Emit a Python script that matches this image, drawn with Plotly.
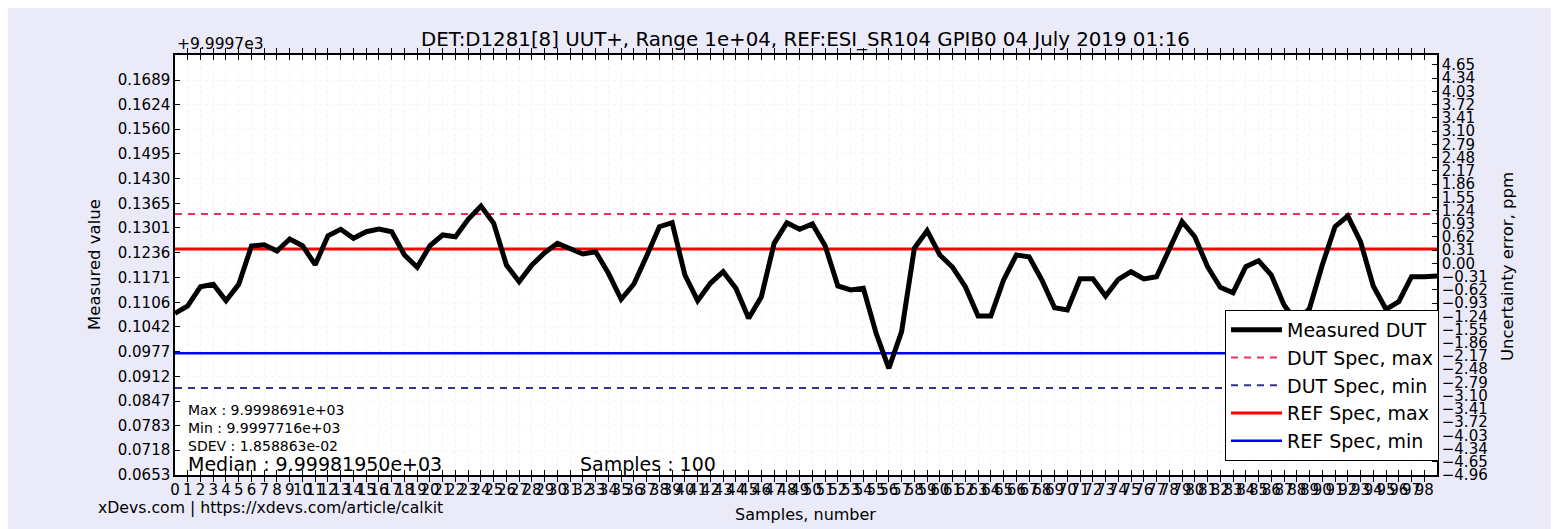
import plotly.graph_objects as go

# ---------------- data (offset values, +9.9997e3) ----------------
samples = list(range(100))
measured = [
    0.10771, 0.10963, 0.11469, 0.11532, 0.11102, 0.11532, 0.12536, 0.12570, 0.12405, 0.12720,
    0.12544, 0.12046, 0.12806, 0.12974, 0.12738, 0.12911, 0.12982, 0.12911, 0.12300, 0.11978,
    0.12544, 0.12825, 0.12780, 0.13236, 0.13585, 0.13132, 0.12038, 0.11600, 0.12038, 0.12361,
    0.12607, 0.12476, 0.12326, 0.12387, 0.11820, 0.11138, 0.11540, 0.12274, 0.13043, 0.13147,
    0.11776, 0.11102, 0.11558, 0.11862, 0.11427, 0.10640, 0.11207, 0.12607, 0.13147, 0.12974,
    0.13113, 0.12544, 0.11487, 0.11382, 0.11427, 0.10247, 0.09329, 0.10289, 0.12476, 0.12938,
    0.12300, 0.11978, 0.11469, 0.10700, 0.10700, 0.11645, 0.12300, 0.12256, 0.11645, 0.10918,
    0.10858, 0.11679, 0.11679, 0.11225, 0.11663, 0.11862, 0.11671, 0.11731, 0.12431, 0.13174,
    0.12780, 0.11993, 0.11453, 0.11311, 0.11993, 0.12151, 0.11776, 0.10989, 0.10543, 0.10900,
    0.12038, 0.13043, 0.13323, 0.12649, 0.11487, 0.10876, 0.11075, 0.11731, 0.11731, 0.11750,
]
dut_spec_max = 0.13376
dut_spec_min = 0.08812
ref_spec_max = 0.12458
ref_spec_min = 0.09722

left_tickvals = [0.0653, 0.0718, 0.0783, 0.0847, 0.0912, 0.0977, 0.1042, 0.1106, 0.1171,
                 0.1236, 0.1301, 0.1365, 0.1430, 0.1495, 0.1560, 0.1624, 0.1689]
left_ticktext = ["0.0653", "0.0718", "0.0783", "0.0847", "0.0912", "0.0977", "0.1042", "0.1106",
                 "0.1171", "0.1236", "0.1301", "0.1365", "0.1430", "0.1495", "0.1560", "0.1624", "0.1689"]
right_tickvals = [-4.96, -4.65, -4.34, -4.03, -3.72, -3.41, -3.10, -2.79, -2.48, -2.17, -1.86,
                  -1.55, -1.24, -0.93, -0.62, -0.31, 0.00, 0.31, 0.62, 0.93, 1.24, 1.55, 1.86,
                  2.17, 2.48, 2.79, 3.10, 3.41, 3.72, 4.03, 4.34, 4.65]
right_ticktext = ["−4.96", "−4.65", "−4.34", "−4.03", "−3.72", "−3.41", "−3.10", "−2.79", "−2.48",
                  "−2.17", "−1.86", "−1.55", "−1.24", "−0.93", "−0.62", "−0.31", "0.00", "0.31",
                  "0.62", "0.93", "1.24", "1.55", "1.86", "2.17", "2.48", "2.79", "3.10", "3.41",
                  "3.72", "4.03", "4.34", "4.65"]
x_tickvals = list(range(99))

title_text = "DET:D1281[8] UUT+, Range 1e+04, REF:ESI_SR104 GPIB0 04 July 2019 01:16"
stats_small = ["Max : 9.9998691e+03", "Min : 9.9997716e+03", "SDEV : 1.858863e-02"]
median_text = "Median : 9.99981950e+03"
samples_text = "Samples : 100"
footer_text = "xDevs.com | https://xdevs.com/article/calkit"

# ---------------- layout geometry (page pixels) ----------------
W, H = 1559, 529
OFF = 8  # default page body margin
L, R, T, B = 175, 1437, 55, 475
PW, PH = R - L, B - T
FONT = "DejaVu Sans"
BG = "#EAEAF9"


def px(xp):
    return (xp - L) / PW


def py(yp):
    return (B - yp) / PH


fig = go.Figure()
xs = [samples[0], samples[-1]]

fig.add_trace(go.Scatter(x=xs, y=[ref_spec_max] * 2, mode="lines", name="REF Spec, max",
                         line=dict(color="#FF0000", width=3), legendrank=4))
fig.add_trace(go.Scatter(x=xs, y=[ref_spec_min] * 2, mode="lines", name="REF Spec, min",
                         line=dict(color="#0000FF", width=2.5), legendrank=5))
fig.add_trace(go.Scatter(x=xs, y=[dut_spec_max] * 2, mode="lines", name="DUT Spec, max",
                         line=dict(color="#E8305A", width=2, dash="7px,6px"), legendrank=2))
fig.add_trace(go.Scatter(x=xs, y=[dut_spec_min] * 2, mode="lines", name="DUT Spec, min",
                         line=dict(color="#33338A", width=2, dash="7px,6px"), legendrank=3))
fig.add_trace(go.Scatter(x=samples, y=measured, mode="lines", name="Measured DUT",
                         line=dict(color="#000000", width=5), legendrank=1))
# anchor trace for the right axis
fig.add_trace(go.Scatter(x=[0], y=[0], yaxis="y2", mode="markers", marker=dict(opacity=0),
                         showlegend=False, hoverinfo="skip"))

fig.update_layout(
    width=W - OFF, height=H - OFF, autosize=False,
    margin=dict(l=L - OFF, r=W - R, t=T - OFF, b=H - B, pad=0),
    paper_bgcolor=BG,
    plot_bgcolor="white",
    font=dict(family=FONT, size=15, color="black"),
    showlegend=True,
    legend=dict(x=px(1225), y=py(310), xanchor="left", yanchor="top",
                bgcolor="white", bordercolor="black", borderwidth=1,
                font=dict(family=FONT, size=19, color="black"),
                traceorder="normal", itemwidth=51, tracegroupgap=0,
                entrywidth=175, entrywidthmode="pixels"),
    xaxis=dict(range=[0, 99], tickvals=x_tickvals, ticktext=[str(v) for v in x_tickvals],
               tickangle=0, ticks="inside", ticklen=5, tickcolor="black",
               showline=True, linecolor="black", linewidth=1.5, mirror="allticks",
               showgrid=True, gridcolor="#F4F4F4", griddash="dot", zeroline=False,
               tickfont=dict(size=15)),
    yaxis=dict(range=[0.0653, 0.17546], tickvals=left_tickvals, ticktext=left_ticktext,
               ticks="inside", ticklen=5, tickcolor="black",
               showline=True, linecolor="black", linewidth=1.5, mirror=True,
               showgrid=True, gridcolor="#F4F4F4", griddash="dot", zeroline=False,
               tickfont=dict(size=15)),
    yaxis2=dict(range=[-4.96, 4.884], tickvals=right_tickvals, ticktext=right_ticktext,
                overlaying="y", side="right", ticks="inside", ticklen=5, tickcolor="black",
                showline=True, linecolor="black", linewidth=1.5, showgrid=False, zeroline=False,
                tickfont=dict(size=15)),
)

ann = []
ann.append(dict(text=title_text, x=px(805), y=py(40), xref="paper", yref="paper",
                xanchor="center", yanchor="middle", showarrow=False,
                font=dict(family=FONT, size=19.8)))
ann.append(dict(text="+9.9997e3", x=px(175), y=py(44), xref="paper", yref="paper",
                xanchor="left", yanchor="middle", showarrow=False, font=dict(family=FONT, size=15.5)))
for i, t in enumerate(stats_small):
    ann.append(dict(text=t, x=px(186), y=py(410 + 18 * i), xref="paper", yref="paper",
                    xanchor="left", yanchor="middle", showarrow=False,
                    font=dict(family=FONT, size=14)))
ann.append(dict(text=median_text, x=px(186), y=py(464), xref="paper", yref="paper",
                xanchor="left", yanchor="middle", showarrow=False, font=dict(family=FONT, size=19)))
ann.append(dict(text=samples_text, x=px(578), y=py(464), xref="paper", yref="paper",
                xanchor="left", yanchor="middle", showarrow=False, font=dict(family=FONT, size=19)))
ann.append(dict(text=footer_text, x=px(96), y=py(507), xref="paper", yref="paper",
                xanchor="left", yanchor="middle", showarrow=False, font=dict(family=FONT, size=15.7)))
ann.append(dict(text="Samples, number", x=px(805), y=py(514), xref="paper", yref="paper",
                xanchor="center", yanchor="middle", showarrow=False, font=dict(family=FONT, size=16)))
ann.append(dict(text="Measured value", x=px(94), y=py(265), xref="paper", yref="paper",
                xanchor="center", yanchor="middle", showarrow=False, textangle=-90,
                font=dict(family=FONT, size=16.5)))
ann.append(dict(text="Uncertainty error, ppm", x=px(1507), y=py(267), xref="paper", yref="paper",
                xanchor="center", yanchor="middle", showarrow=False, textangle=-90,
                font=dict(family=FONT, size=16.5)))
fig.update_layout(annotations=ann)

fig.write_html("out.html")
